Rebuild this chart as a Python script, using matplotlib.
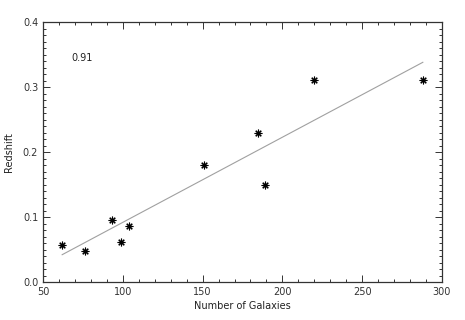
import matplotlib
matplotlib.use("Agg")
import matplotlib.pyplot as plt
from matplotlib.ticker import MultipleLocator

n_galaxies = [62, 76, 93, 99, 104, 151, 185, 189, 220, 288]
redshift = [0.057, 0.047, 0.096, 0.061, 0.086, 0.180, 0.230, 0.150, 0.311, 0.311]
fit_x = [62, 288]
fit_y = [0.042, 0.338]
corr_label = "0.91"

plt.rcParams['font.family'] = ['DejaVu Sans']
fig = plt.figure(figsize=(4.65, 3.2), dpi=100)
ax = fig.add_axes([0.0925, 0.11875, 0.858, 0.8125])

ax.plot(fit_x, fit_y, color='#a0a0a0', lw=0.8)
ax.plot(n_galaxies, redshift, linestyle='none', marker=(8, 2, 0), markersize=5.5,
        markeredgecolor='black', markeredgewidth=0.8, color='black')

ax.set_xlim(50, 300)
ax.set_ylim(0, 0.4)
ax.xaxis.set_major_locator(MultipleLocator(50))
ax.xaxis.set_minor_locator(MultipleLocator(10))
ax.yaxis.set_major_locator(MultipleLocator(0.1))
ax.yaxis.set_minor_locator(MultipleLocator(0.01))
ax.tick_params(which='both', direction='in', top=True, right=True, labelsize=7, width=0.7, colors='#333333')
ax.tick_params(which='major', length=5)
ax.tick_params(which='minor', length=2.5)
ax.yaxis.set_major_formatter(plt.FuncFormatter(lambda v, p: f"{v:.1f}"))
for s in ax.spines.values():
    s.set_linewidth(0.9)
    s.set_color('#333333')

ax.set_xlabel("Number of Galaxies", fontsize=7, labelpad=3, color='#222222')
ax.set_ylabel("Redshift", fontsize=7, labelpad=6, color='#222222')
ax.text(67.5, 0.345, corr_label, fontsize=7, va='center', ha='left', color='#222222')

fig.savefig("out.png", dpi=100)
